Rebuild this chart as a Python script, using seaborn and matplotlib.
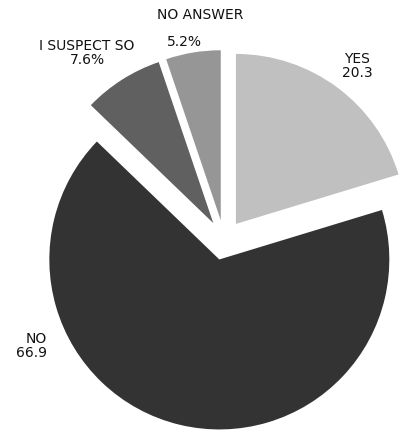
import matplotlib
matplotlib.use("Agg")
import matplotlib.pyplot as plt
import seaborn as sns

# Survey answers, clockwise from 12 o'clock
categories = ["YES", "NO", "I SUSPECT SO", "NO ANSWER"]
shares = [20.3, 66.9, 7.6, 5.2]
value_labels = ["20.3", "66.9", "7.6%", "5.2%"]
colors = ["#c0c0c0", "#333333", "#606060", "#969696"]

sns.set_theme(style="white")
plt.rcParams["font.family"] = ["DejaVu Sans"]

W, H = 402, 431
fig = plt.figure(figsize=(W / 100, H / 100), dpi=100)
ax = fig.add_axes([0, 0, 1, 1])

# axes measured in pixels, y pointing up
center = (224, -241)
radius = 170
ax.pie(shares, colors=colors, startangle=90, counterclock=False,
       explode=[20] * len(shares), center=center, radius=radius,
       wedgeprops=dict(linewidth=0))

ax.set_xlim(0, W)
ax.set_ylim(-H, 0)
ax.set_aspect("equal")
ax.axis("off")

fs = 10
txt = dict(fontsize=fs, color="#111111", va="center")
# YES
ax.text(357, -66, f"{categories[0]}\n{value_labels[0]}", ha="center",
        multialignment="center", linespacing=1.05, **txt)
# NO
ax.text(47, -346, f"{categories[1]}\n{value_labels[1]}", ha="right",
        multialignment="right", linespacing=1.05, **txt)
# I SUSPECT SO
ax.text(87, -53, f"{categories[2]}\n{value_labels[2]}", ha="center",
        multialignment="center", linespacing=1.05, **txt)
# NO ANSWER
ax.text(200, -15, categories[3], ha="center", **txt)
ax.text(184, -42, value_labels[3], ha="center", **txt)

fig.savefig("out.png", dpi=100, facecolor="white")
